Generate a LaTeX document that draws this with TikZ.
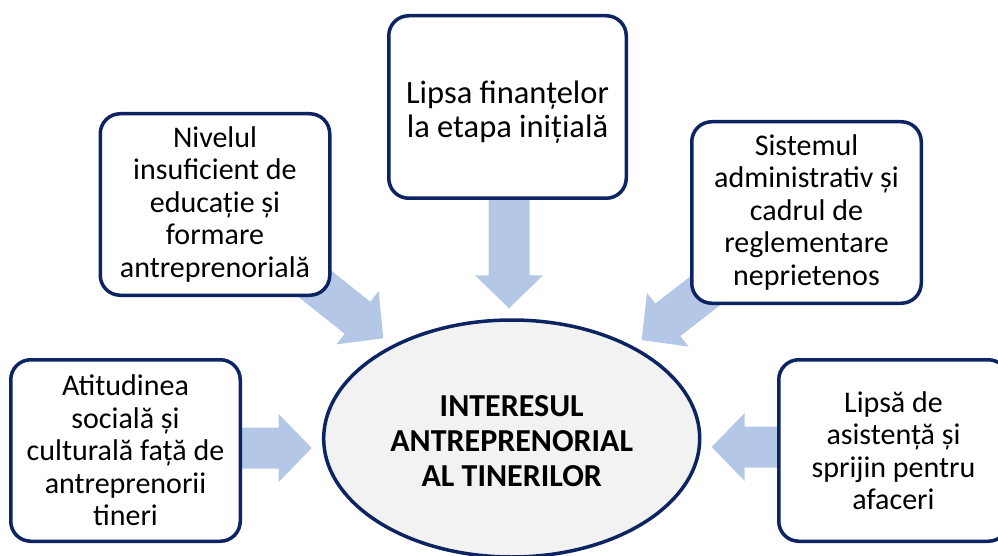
\documentclass[tikz,border=0pt]{standalone}
\usepackage{fontspec}
\setmainfont{Carlito}
\usetikzlibrary{calc}
\definecolor{navy}{HTML}{0C2461}
\definecolor{arrowfill}{HTML}{B4C7E7}
\definecolor{ellfill}{HTML}{F2F2F2}
\tikzset{
  factor/.style={draw=navy, line width=3.5pt, fill=white, rounded corners=20pt,
    minimum width=229.5pt, minimum height=181.5pt, align=center, inner sep=0pt,
    font=\fontsize{30}{32.5}\selectfont},
  centre/.style={draw=navy, line width=3.5pt, fill=ellfill, ellipse,
    minimum width=376pt, minimum height=237pt, align=center, inner sep=0pt,
    font=\fontsize{32}{35}\selectfont\bfseries},
}
\usetikzlibrary{shapes.geometric}
\newcommand\blockarrow[2]{%
  \coordinate (#1-h) at ($(#2)!33pt!(#1)$);
  \fill[arrowfill] ($(#1)!20.5pt!90:(#2)$) -- ($(#1-h)!20.5pt!-90:(#1)$)
    -- ($(#1-h)!34pt!-90:(#1)$) -- (#2) -- ($(#1-h)!34pt!90:(#1)$)
    -- ($(#1-h)!20.5pt!90:(#1)$) -- ($(#1)!20.5pt!-90:(#2)$) -- cycle;}
\begin{document}
\begin{tikzpicture}[x=1pt,y=-1pt]
\useasboundingbox (0,0) rectangle (998,556);
% arrows (drawn first, boxes cover their tails)
\coordinate (a1) at (235,448);   \coordinate (t1) at (311.7,448);
\coordinate (a2) at (785,447);   \coordinate (t2) at (711.7,447);
\coordinate (a3) at (509,195);   \coordinate (t3) at (509,308.3);
\coordinate (a4) at (295,268);   \coordinate (t4) at (383.3,338.3);
\coordinate (a5) at (730.8,271); \coordinate (t5) at (641.7,340);
\blockarrow{a1}{t1}
\blockarrow{a2}{t2}
\blockarrow{a3}{t3}
\blockarrow{a4}{t4}
\blockarrow{a5}{t5}
% boxes
\node[factor, minimum width=237.5pt, minimum height=182.5pt] (top) at (507.5,107) {};
\node[font=\fontsize{32.5}{34}\selectfont, align=center, inner sep=0pt] (toptext) at (507.5,112) {Lipsa finanțelor\\la etapa inițială};
\node[factor] (ul) at (215,204.5) {Nivelul\\insuficient de\\educație și\\formare\\antreprenorială};
\node[factor] (ur) at (806.5,212.5) {Sistemul\\administrativ și\\cadrul de\\reglementare\\neprietenos};
\node[factor] (bl) at (125.5,450.5) {Atitudinea\\socială și\\culturală față de\\antreprenorii\\tineri};
\node[factor] (br) at (893.5,450.5) {Lipsă de\\asistență și\\sprijin pentru\\afaceri};
% centre
\node[centre] (c) at (511.7,438.5) {};
\node[font=\fontsize{32}{35}\selectfont\bfseries, align=center, inner sep=0pt] (ctext) at (511.7,441) {INTERESUL\\ANTREPRENORIAL\\AL TINERILOR};
\end{tikzpicture}
\end{document}
